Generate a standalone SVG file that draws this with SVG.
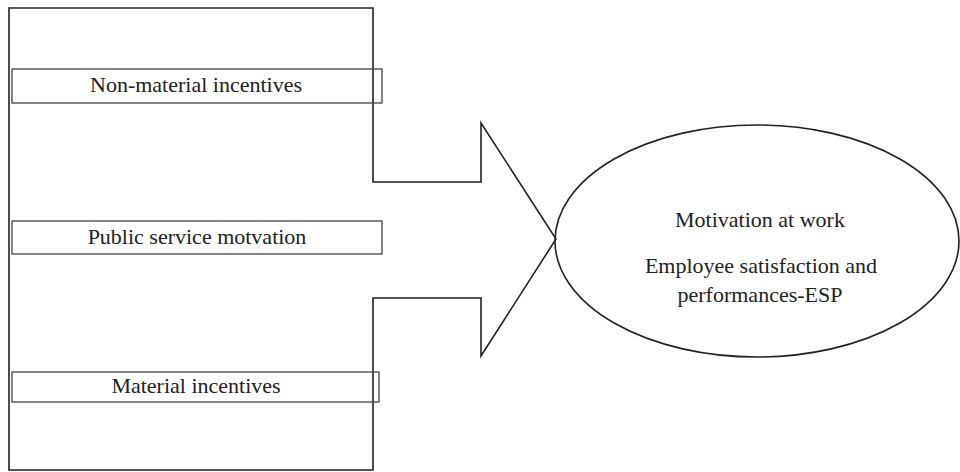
<svg xmlns="http://www.w3.org/2000/svg" width="960" height="472" viewBox="0 0 960 472">
<style>
.ln{fill:none;stroke:#222;stroke-width:1.6;stroke-linejoin:miter}
.bx{fill:none;stroke:#444;stroke-width:1.3}
.t{font-family:"Liberation Serif","Times New Roman",serif;font-size:22px;fill:#222;text-anchor:middle}
</style>
<rect width="960" height="472" fill="#fff"/>
<g id="connectors">
<path id="arrow-frame" class="ln" d="M9,8 H373 V182 H481 V123 L556,239 L481,356 V298 H373 V470 H9 Z"/>
</g>
<g id="node-nonmaterial">
<rect class="bx" x="12" y="69" width="370" height="34"/>
<text class="t" x="196" y="92">Non-material incentives</text>
</g>
<g id="node-psm">
<rect class="bx" x="12" y="221" width="370" height="33"/>
<text class="t" x="197" y="244">Public service motvation</text>
</g>
<g id="node-material">
<rect class="bx" x="12" y="372" width="367" height="30"/>
<text class="t" x="196" y="393">Material incentives</text>
</g>
<g id="node-outcome">
<ellipse class="ln" cx="757" cy="241" rx="202" ry="116" stroke-width="1.4"/>
<text class="t" x="760" y="227">Motivation at work</text>
<text class="t" x="761" y="273">Employee satisfaction and</text>
<text class="t" x="760" y="302">performances-ESP</text>
</g>
</svg>
